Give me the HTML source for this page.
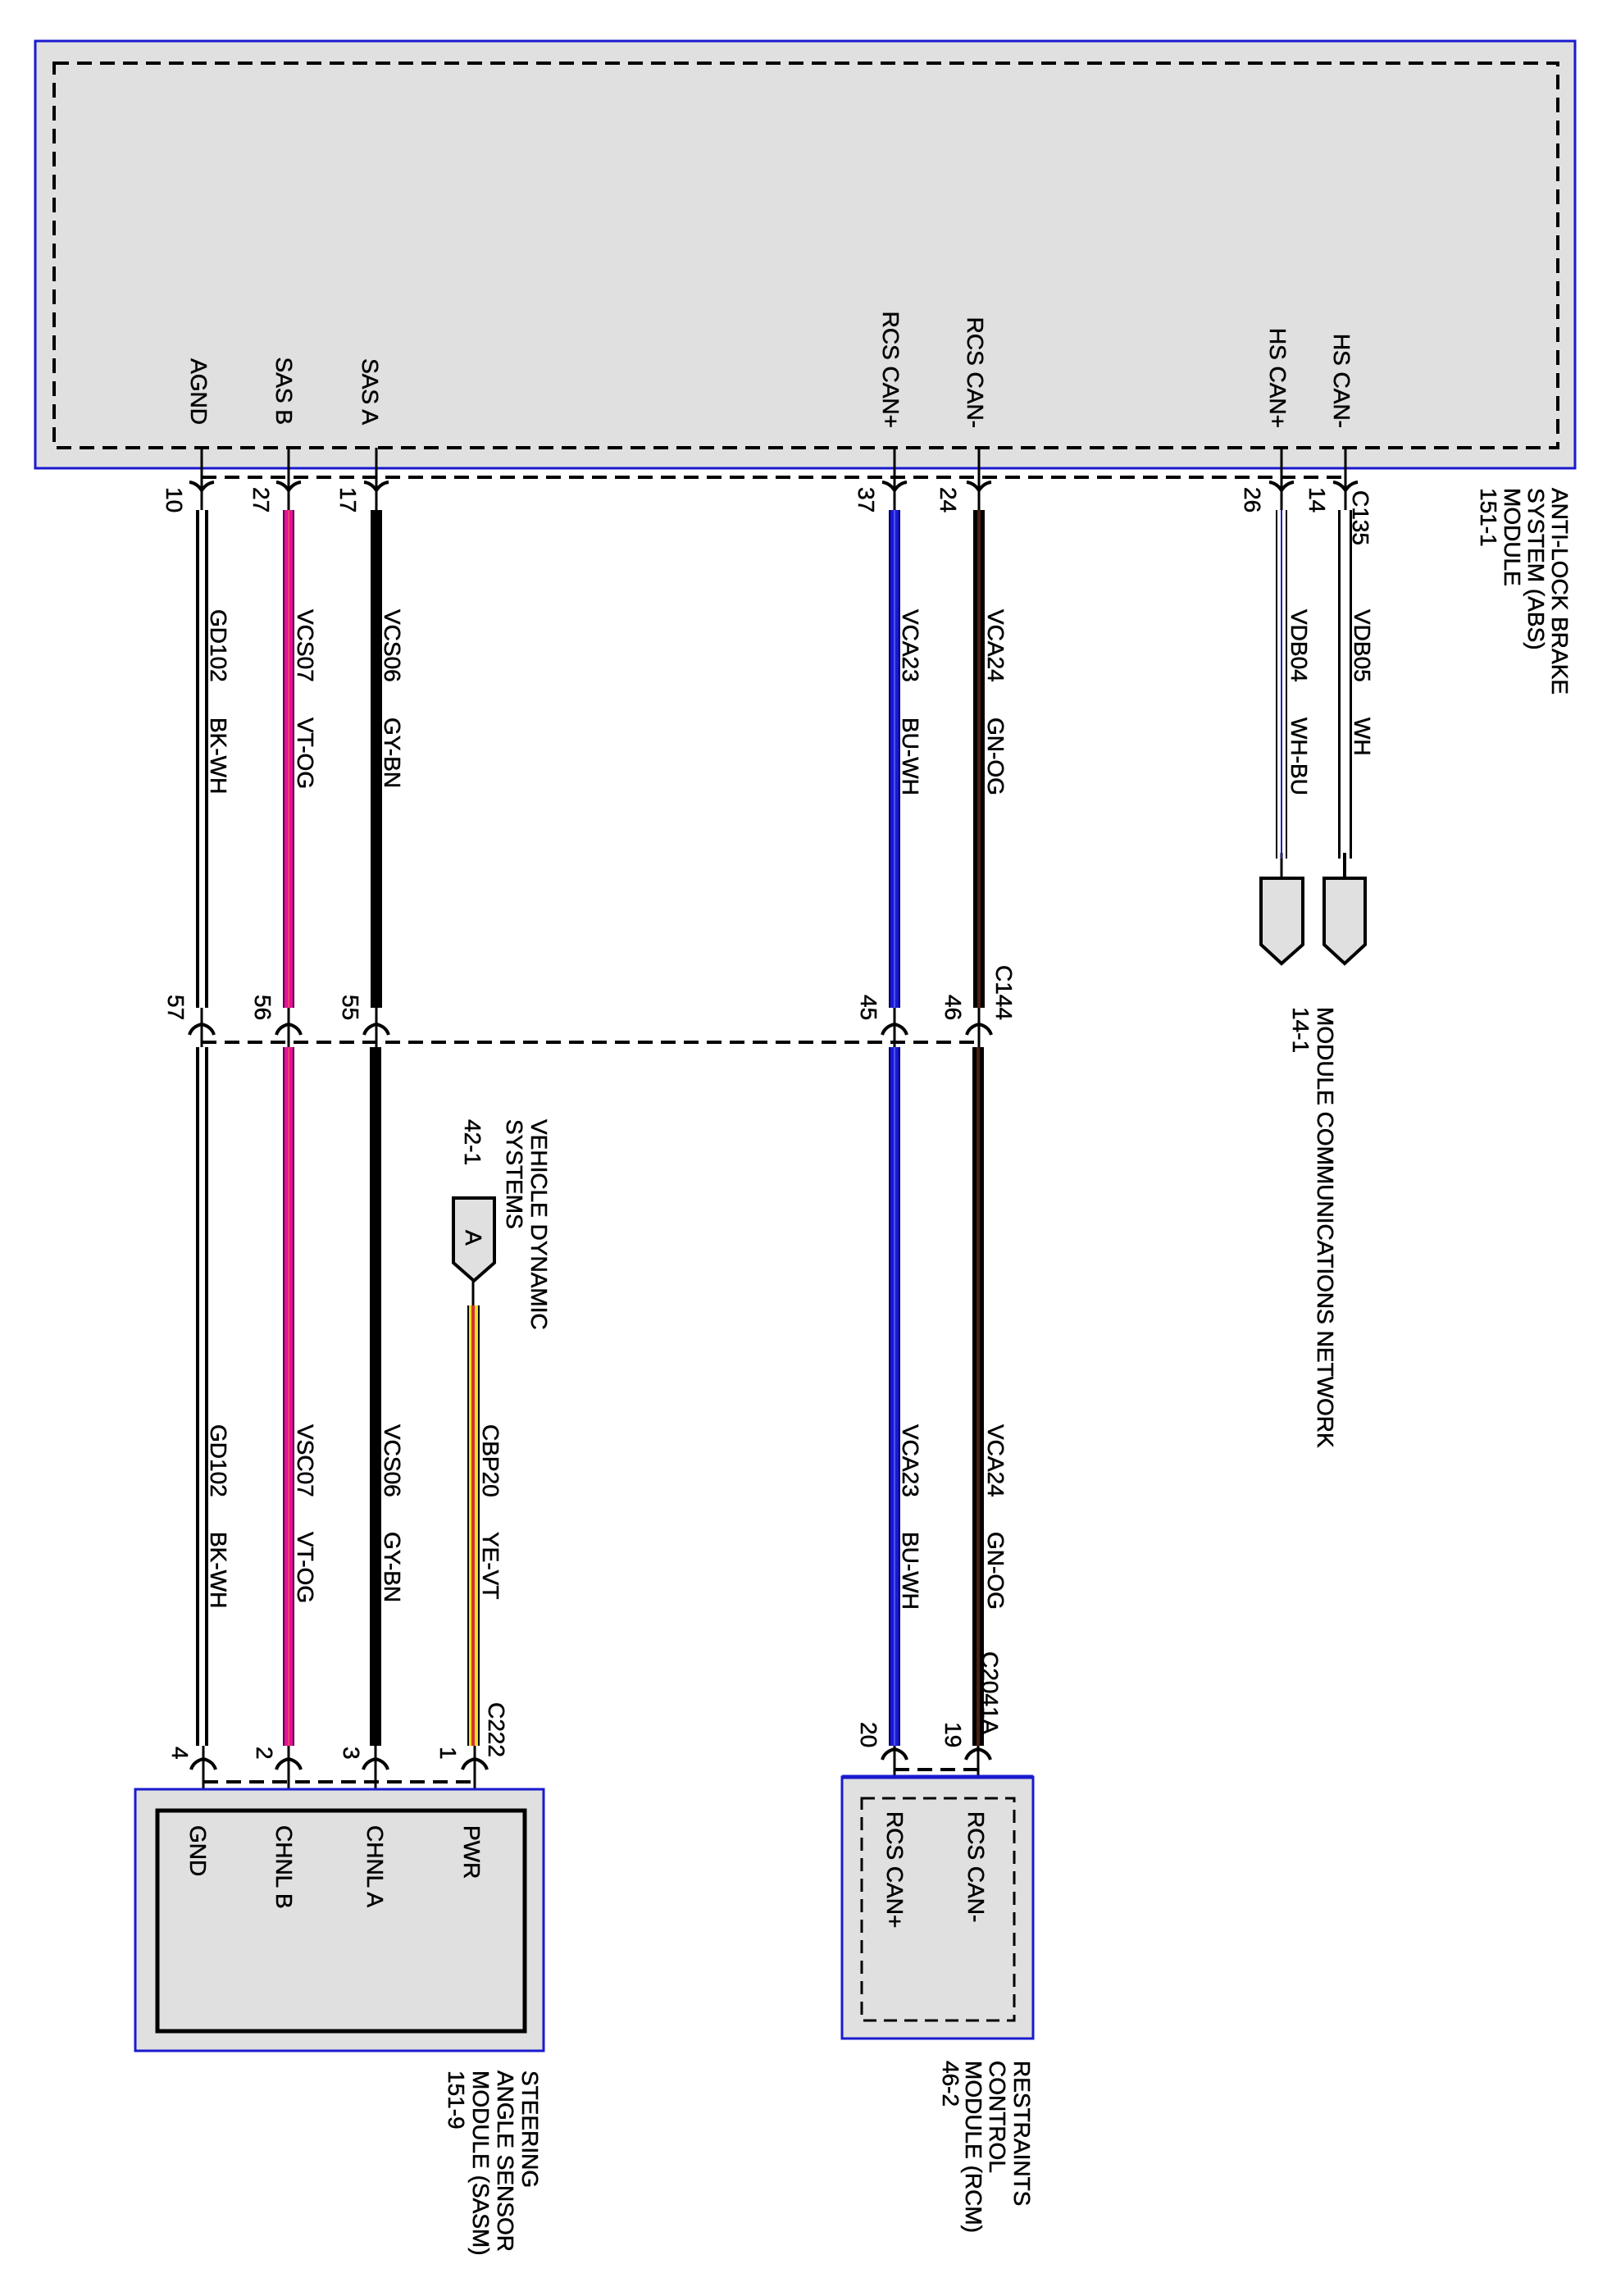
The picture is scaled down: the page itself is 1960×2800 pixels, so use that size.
<!DOCTYPE html>
<html><head><meta charset="utf-8"><style>
html,body{margin:0;padding:0;background:#fff}
svg text{font-family:"Liberation Sans",Arial,sans-serif;font-size:28px;fill:#000;stroke:#000;stroke-width:0.5}
</style></head><body>
<svg width="1960" height="2795" viewBox="0 0 1960 2795" xmlns="http://www.w3.org/2000/svg">
<rect x="43" y="50" width="1878" height="521" fill="#e0e0e0" stroke="#1a1ad0" stroke-width="3"/>
<rect x="66" y="77" width="1834" height="469" fill="none" stroke="#000" stroke-width="4" stroke-dasharray="18,10"/>
<line x1="246" y1="582" x2="1641" y2="582" stroke="#000" stroke-width="4" stroke-dasharray="18,10"/>
<line x1="246" y1="1271" x2="1194" y2="1271" stroke="#000" stroke-width="4" stroke-dasharray="18,10"/>
<line x1="248" y1="2173" x2="579" y2="2173" stroke="#000" stroke-width="4" stroke-dasharray="18,10"/>
<line x1="1091" y1="2158" x2="1193" y2="2158" stroke="#000" stroke-width="4" stroke-dasharray="18,10"/>

<g stroke="#000" stroke-width="3">
<line x1="246" y1="546" x2="246" y2="622"/><line x1="352" y1="546" x2="352" y2="622"/><line x1="459" y1="546" x2="459" y2="622"/>
<line x1="1091" y1="546" x2="1091" y2="622"/><line x1="1194" y1="546" x2="1194" y2="622"/>
<line x1="1563" y1="546" x2="1563" y2="622"/><line x1="1641" y1="546" x2="1641" y2="622"/>
<line x1="246" y1="1229" x2="246" y2="1277"/><line x1="352" y1="1229" x2="352" y2="1277"/><line x1="459" y1="1229" x2="459" y2="1277"/>
<line x1="1091" y1="1229" x2="1091" y2="1277"/><line x1="1194" y1="1229" x2="1194" y2="1277"/>
<line x1="248" y1="2129" x2="248" y2="2207"/><line x1="352" y1="2129" x2="352" y2="2207"/><line x1="458" y1="2129" x2="458" y2="2207"/><line x1="579" y1="2129" x2="579" y2="2207"/>
<line x1="1091" y1="2129" x2="1091" y2="2193"/><line x1="1193" y1="2129" x2="1193" y2="2193"/>
<line x1="1563" y1="1040" x2="1563" y2="1071"/><line x1="1640" y1="1040" x2="1640" y2="1071" stroke-width="4"/>
<line x1="577" y1="1560" x2="577" y2="1592"/>
</g>

<g fill="none" stroke="#000" stroke-width="4">
<path d="M231 588 Q240 589 246 598 Q252 589 261 588"/>
<path d="M337 588 Q346 589 352 598 Q358 589 367 588"/>
<path d="M444 588 Q453 589 459 598 Q465 589 474 588"/>
<path d="M1076 588 Q1085 589 1091 598 Q1097 589 1106 588"/>
<path d="M1179 588 Q1188 589 1194 598 Q1200 589 1209 588"/>
<path d="M1548 588 Q1557 589 1563 598 Q1569 589 1578 588"/>
<path d="M1626 588 Q1635 589 1641 598 Q1647 589 1656 588"/>
<path d="M231 1262 Q234 1252 246 1249 Q258 1252 261 1262"/>
<path d="M337 1262 Q340 1252 352 1249 Q364 1252 367 1262"/>
<path d="M444 1262 Q447 1252 459 1249 Q471 1252 474 1262"/>
<path d="M1076 1262 Q1079 1252 1091 1249 Q1103 1252 1106 1262"/>
<path d="M1179 1262 Q1182 1252 1194 1249 Q1206 1252 1209 1262"/>
<path d="M233 2158 Q236 2148 248 2145 Q260 2148 263 2158"/>
<path d="M337 2158 Q340 2148 352 2145 Q364 2148 367 2158"/>
<path d="M443 2158 Q446 2148 458 2145 Q470 2148 473 2158"/>
<path d="M564 2158 Q567 2148 579 2145 Q591 2148 594 2158"/>
<path d="M1076 2146 Q1079 2136 1091 2133 Q1103 2136 1106 2146"/>
<path d="M1178 2146 Q1181 2136 1193 2133 Q1205 2136 1208 2146"/>
</g>

<g>
<rect x="239" y="622" width="15" height="607" fill="#000"/><rect x="243" y="622" width="7" height="607" fill="#fff"/>
<rect x="239" y="1277" width="15" height="852" fill="#000"/><rect x="243" y="1277" width="7" height="852" fill="#fff"/>
<rect x="345" y="622" width="14" height="607" fill="#600040"/><rect x="347" y="622" width="10" height="607" fill="#e0109c"/><rect x="351" y="622" width="2" height="607" fill="#f04070"/>
<rect x="345" y="1277" width="14" height="852" fill="#600040"/><rect x="347" y="1277" width="10" height="852" fill="#e0109c"/><rect x="351" y="1277" width="2" height="852" fill="#f04070"/>
<rect x="452" y="622" width="14" height="607" fill="#000"/>
<rect x="451" y="1277" width="14" height="852" fill="#000"/>
<rect x="1084" y="622" width="14" height="607" fill="#000050"/><rect x="1086" y="622" width="10" height="607" fill="#1818d8"/><rect x="1090" y="622" width="2" height="607" fill="#5050ff"/>
<rect x="1084" y="1277" width="14" height="852" fill="#000050"/><rect x="1086" y="1277" width="10" height="852" fill="#1818d8"/><rect x="1090" y="1277" width="2" height="852" fill="#5050ff"/>
<rect x="1187" y="622" width="14" height="607" fill="#000"/><rect x="1192" y="622" width="4" height="607" fill="#4a2010"/>
<rect x="1186" y="1277" width="14" height="852" fill="#000"/><rect x="1191" y="1277" width="4" height="852" fill="#4a2010"/>
<rect x="1556" y="622" width="2" height="425" fill="#000"/><rect x="1568" y="622" width="2" height="425" fill="#000"/><rect x="1562" y="622" width="2" height="425" fill="#2020c0"/>
<rect x="1632" y="622" width="3" height="425" fill="#000"/><rect x="1646" y="622" width="3" height="425" fill="#000"/>
<rect x="570" y="1592" width="15" height="537" fill="#000"/><rect x="572" y="1592" width="11" height="537" fill="#f0e020"/><rect x="575" y="1592" width="4" height="537" fill="#d83030"/>
</g>

<path d="M1538 1071 H1589 V1152 L1563 1175 L1538 1152 Z" fill="#e0e0e0" stroke="#000" stroke-width="4"/>
<path d="M1615 1071 H1665 V1152 L1640 1175 L1615 1152 Z" fill="#e0e0e0" stroke="#000" stroke-width="4"/>
<path d="M553 1461 H603 V1540 L578 1562 L553 1540 Z" fill="#e0e0e0" stroke="#000" stroke-width="4"/>
<text transform="translate(568,1500) rotate(90)">A</text>

<rect x="165" y="2182" width="498" height="319" fill="#e0e0e0" stroke="#1a1ad0" stroke-width="3"/>
<rect x="192" y="2208" width="448" height="269" fill="none" stroke="#000" stroke-width="5"/>
<rect x="1027" y="2167" width="233" height="319" fill="#e0e0e0" stroke="#1a1ad0" stroke-width="3"/>
<line x1="1027" y1="2167" x2="1260" y2="2167" stroke="#1a1ad0" stroke-width="5"/>
<rect x="1051" y="2193" width="186" height="271" fill="none" stroke="#000" stroke-width="3" stroke-dasharray="16,9"/>

<g text-anchor="end">
<text transform="translate(233,518) rotate(90)">AGND</text>
<text transform="translate(337,518) rotate(90)">SAS B</text>
<text transform="translate(442,518) rotate(90)">SAS A</text>
<text transform="translate(1077,522) rotate(90)">RCS CAN+</text>
<text transform="translate(1180,522) rotate(90)">RCS CAN-</text>
<text transform="translate(1549,522) rotate(90)">HS CAN+</text>
<text transform="translate(1627,522) rotate(90)">HS CAN-</text>
</g>

<g>
<text transform="translate(203,594) rotate(90)">10</text>
<text transform="translate(309,594) rotate(90)">27</text>
<text transform="translate(415,594) rotate(90)">17</text>
<text transform="translate(1047,594) rotate(90)">37</text>
<text transform="translate(1147,594) rotate(90)">24</text>
<text transform="translate(1518,594) rotate(90)">26</text>
<text transform="translate(1597,594) rotate(90)">14</text>
<text transform="translate(1650,598) rotate(90)">C135</text>
<text transform="translate(205,1213) rotate(90)">57</text>
<text transform="translate(311,1213) rotate(90)">56</text>
<text transform="translate(418,1213) rotate(90)">55</text>
<text transform="translate(1050,1213) rotate(90)">45</text>
<text transform="translate(1153,1213) rotate(90)">46</text>
<text transform="translate(1215,1177) rotate(90)">C144</text>
<text transform="translate(210,2130) rotate(90)">4</text>
<text transform="translate(313,2130) rotate(90)">2</text>
<text transform="translate(419,2130) rotate(90)">3</text>
<text transform="translate(537,2130) rotate(90)">1</text>
<text transform="translate(596,2076) rotate(90)">C222</text>
<text transform="translate(1050,2100) rotate(90)">20</text>
<text transform="translate(1153,2100) rotate(90)">19</text>
<text transform="translate(1198,2014) rotate(90)">C2041A</text>
</g>

<g>
<text transform="translate(257,743) rotate(90)">GD102</text><text transform="translate(257,875) rotate(90)">BK-WH</text>
<text transform="translate(363,743) rotate(90)">VCS07</text><text transform="translate(363,875) rotate(90)">VT-OG</text>
<text transform="translate(469,743) rotate(90)">VCS06</text><text transform="translate(469,875) rotate(90)">GY-BN</text>
<text transform="translate(1101,743) rotate(90)">VCA23</text><text transform="translate(1101,875) rotate(90)">BU-WH</text>
<text transform="translate(1205,743) rotate(90)">VCA24</text><text transform="translate(1205,875) rotate(90)">GN-OG</text>
<text transform="translate(1575,743) rotate(90)">VDB04</text><text transform="translate(1575,875) rotate(90)">WH-BU</text>
<text transform="translate(1652,743) rotate(90)">VDB05</text><text transform="translate(1652,875) rotate(90)">WH</text>

<text transform="translate(257,1737) rotate(90)">GD102</text><text transform="translate(257,1868) rotate(90)">BK-WH</text>
<text transform="translate(363,1737) rotate(90)">VSC07</text><text transform="translate(363,1868) rotate(90)">VT-OG</text>
<text transform="translate(469,1737) rotate(90)">VCS06</text><text transform="translate(469,1868) rotate(90)">GY-BN</text>
<text transform="translate(589,1737) rotate(90)">CBP20</text><text transform="translate(589,1868) rotate(90)">YE-VT</text>
<text transform="translate(1101,1737) rotate(90)">VCA23</text><text transform="translate(1101,1868) rotate(90)">BU-WH</text>
<text transform="translate(1205,1737) rotate(90)">VCA24</text><text transform="translate(1205,1868) rotate(90)">GN-OG</text>
</g>

<text transform="translate(232,2226) rotate(90)">GND</text>
<text transform="translate(337,2226) rotate(90)">CHNL B</text>
<text transform="translate(448,2226) rotate(90)">CHNL A</text>
<text transform="translate(566,2226) rotate(90)">PWR</text>
<text transform="translate(1082,2209) rotate(90)">RCS CAN+</text>
<text transform="translate(1181,2209) rotate(90)">RCS CAN-</text>

<text transform="translate(1893,595) rotate(90)">ANTI-LOCK BRAKE</text>
<text transform="translate(1864,595) rotate(90)">SYSTEM (ABS)</text>
<text transform="translate(1835,595) rotate(90)">MODULE</text>
<text transform="translate(1806,595) rotate(90)">151-1</text>

<text transform="translate(1607,1228) rotate(90)">MODULE COMMUNICATIONS NETWORK</text>
<text transform="translate(1577,1228) rotate(90)">14-1</text>

<text transform="translate(648,1365) rotate(90)">VEHICLE DYNAMIC</text>
<text transform="translate(618,1365) rotate(90)">SYSTEMS</text>
<text transform="translate(567,1365) rotate(90)">42-1</text>

<text transform="translate(637,2525) rotate(90)">STEERING</text>
<text transform="translate(607,2525) rotate(90)">ANGLE SENSOR</text>
<text transform="translate(577,2525) rotate(90)">MODULE (SASM)</text>
<text transform="translate(547,2525) rotate(90)">151-9</text>

<text transform="translate(1237,2513) rotate(90)">RESTRAINTS</text>
<text transform="translate(1207,2513) rotate(90)">CONTROL</text>
<text transform="translate(1178,2513) rotate(90)">MODULE (RCM)</text>
<text transform="translate(1150,2513) rotate(90)">46-2</text>
</svg>
</body></html>
